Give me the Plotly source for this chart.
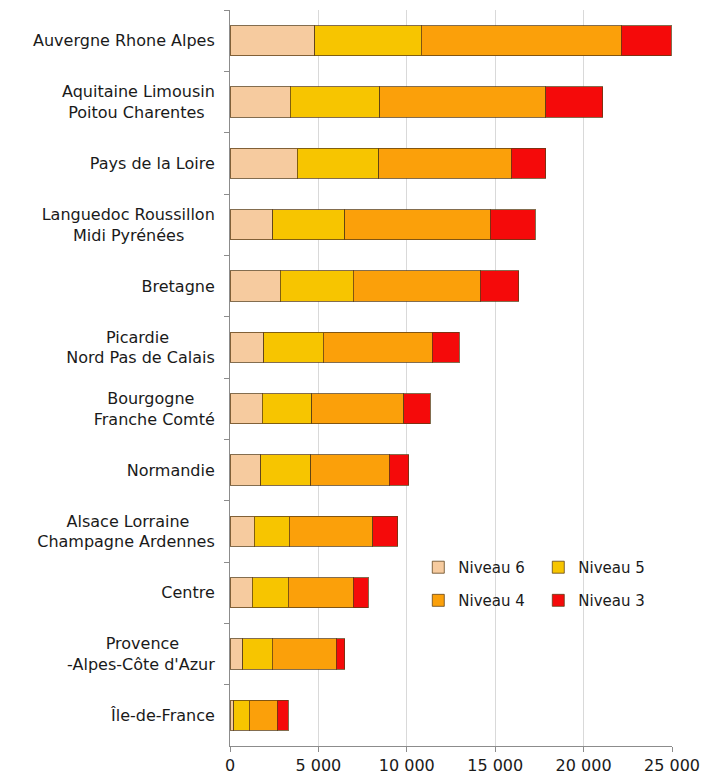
import plotly.graph_objects as go

regions = [
    "Auvergne Rhone Alpes",
    "Aquitaine Limousin<br>Poitou Charentes",
    "Pays de la Loire",
    "Languedoc Roussillon<br>Midi Pyrénées",
    "Bretagne",
    "Picardie<br>Nord Pas de Calais",
    "Bourgogne<br>Franche Comté",
    "Normandie",
    "Alsace Lorraine<br>Champagne Ardennes",
    "Centre",
    "Provence<br>-Alpes-Côte d'Azur",
    "Île-de-France",
]
niveau6 = [4780, 3400, 3810, 2420, 2830, 1920, 1830, 1740, 1360, 1270, 720, 200]
niveau5 = [6040, 5060, 4610, 4080, 4150, 3360, 2800, 2830, 2000, 2030, 1680, 900]
niveau4 = [11300, 9390, 7480, 8220, 7180, 6170, 5190, 4440, 4720, 3680, 3600, 1580]
niveau3 = [2850, 3240, 1960, 2550, 2170, 1530, 1510, 1090, 1400, 850, 500, 620]


def est_width(s):
    w = 0.0
    for ch in s:
        if ch == " ":
            w += 0.32
        elif ch in "ilIj'í.,":
            w += 0.28
        elif ch in "rtf-":
            w += 0.40
        elif ch in "mwMW":
            w += 0.95
        elif ch.isupper():
            w += 0.72
        else:
            w += 0.61
    return w


def center_lines(label):
    lines = label.split("<br>")
    if len(lines) == 1:
        return label
    widths = [est_width(l) for l in lines]
    wmax = max(widths)
    out = []
    for l, w in zip(lines, widths):
        n = int(round((wmax - w) / 2 / 0.32))
        out.append(l + "\u00a0" * n)
    return "<br>".join(out)


labels = [center_lines(r) for r in regions]

series = [
    ("Niveau 6", niveau6, "#F6CB9F", "legend"),
    ("Niveau 5", niveau5, "#F7C500", "legend"),
    ("Niveau 4", niveau4, "#FBA00A", "legend2"),
    ("Niveau 3", niveau3, "#F50A0A", "legend2"),
]

fig = go.Figure()
for name, vals, col, lg in series:
    fig.add_trace(go.Bar(
        y=labels, x=vals, name=name, orientation="h",
        marker=dict(color=col, line=dict(color="rgba(90,60,20,0.75)", width=1)),
        legend=lg,
    ))

font = dict(family="DejaVu Sans, sans-serif", size=16, color="#1a1a1a")

legend_common = dict(
    orientation="h", xanchor="left", yanchor="top",
    entrywidth=75, entrywidthmode="pixels",
    font=dict(size=15), bgcolor="rgba(0,0,0,0)", itemwidth=30,
    traceorder="normal",
)

fig.update_layout(
    width=713, height=776,
    barmode="stack", bargap=0.51,
    separators=", ",
    plot_bgcolor="white", paper_bgcolor="white",
    margin=dict(l=222, r=49, t=2, b=38, autoexpand=False),
    font=font,
    xaxis=dict(
        range=[0, 25000], dtick=5000, tickformat=",d",
        showgrid=True, gridcolor="#d9d9d9", gridwidth=1,
        showline=True, linecolor="#8c8c8c", linewidth=1,
        ticks="outside", ticklen=5, tickcolor="#8c8c8c",
        zeroline=False, tickfont=dict(size=16),
    ),
    yaxis=dict(
        autorange="reversed", type="category",
        showline=True, linecolor="#8c8c8c", linewidth=1,
        ticks="outside", ticklen=5, tickcolor="#8c8c8c",
        tickson="boundaries", showgrid=False,
        tickfont=dict(size=16), ticklabelstandoff=11,
    ),
    legend=dict(x=0.426, y=0.265, **legend_common),
    legend2=dict(x=0.426, y=0.220, **legend_common),
)

fig.write_html("out.html")
